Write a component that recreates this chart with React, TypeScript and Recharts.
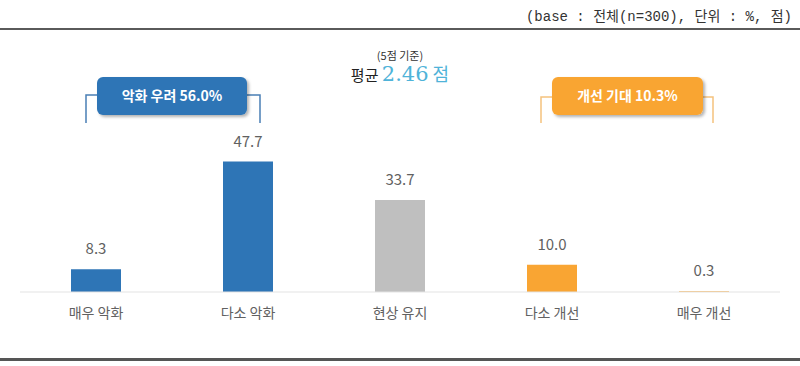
import { BarChart, Bar, XAxis, YAxis, Cell, LabelList } from "recharts";

const categories = ["매우 악화", "다소 악화", "현상 유지", "다소 개선", "매우 개선"];
const values = [8.3, 47.7, 33.7, 10.0, 0.3];
const barColors = ["#2e75b6", "#2e75b6", "#bfbfbf", "#f9a533", "#f9a533"];

const data = categories.map((name, i) => ({ name, value: values[i] }));

const KR = "'Noto Sans CJK KR', 'Noto Sans', sans-serif";

export default function App() {
  return (
    <div style={{ position: "absolute", left: 0, top: 0, width: 800, height: 366, background: "#fff", fontFamily: KR }}>
      {/* header note + frame lines */}
      <div style={{ position: "absolute", right: 8, top: 7, fontSize: 14, lineHeight: "20px", color: "#333", fontFamily: "'Liberation Mono', 'Noto Sans CJK KR', monospace", whiteSpace: "pre" }}>
        (base : 전체(n=300), 단위 : %, 점)
      </div>
      <div style={{ position: "absolute", left: 0, top: 28, width: 800, height: 2, background: "#5a5a5a" }} />
      <div style={{ position: "absolute", left: 0, top: 358, width: 800, height: 3, background: "#555" }} />

      {/* average */}
      <div style={{ position: "absolute", left: 0, width: 800, top: 47, textAlign: "center", fontSize: 11, color: "#333" }}>(5점 기준)</div>
      <div style={{ position: "absolute", left: 0, width: 800, top: 60, textAlign: "center", color: "#222", fontSize: 15 }}>
        평균 <span style={{ color: "#4fb3d9", fontSize: 21, fontFamily: "'DejaVu Serif', serif" }}>2.46</span>
        <span style={{ color: "#4fb3d9", fontSize: 18 }}> 점</span>
      </div>

      <BarChart width={800} height={366} data={data} margin={{ top: 128, right: 20, bottom: 44, left: 20 }} style={{ position: "absolute", left: 0, top: 0 }}>
        <YAxis hide domain={[0, 60]} />
        <XAxis
          dataKey="name"
          axisLine={{ stroke: "#e3e3e3" }}
          tickLine={false}
          tickMargin={10}
          tick={{ fill: "#616161", fontSize: 14, fontFamily: KR }}
        />
        <Bar dataKey="value" barSize={50} isAnimationActive={false}>
          {data.map((d, i) => (
            <Cell key={d.name} fill={barColors[i]} />
          ))}
          <LabelList dataKey="value" position="top" offset={15} fill="#616161" fontSize={15} fontFamily={KR} formatter={(v: any) => Number(v).toFixed(1)} />
        </Bar>
      </BarChart>

      {/* group brackets */}
      <svg width={800} height={366} style={{ position: "absolute", left: 0, top: 0, pointerEvents: "none" }}>
        <defs>
          <filter id="sh" x="-10%" y="-20%" width="130%" height="160%">
            <feDropShadow dx="2" dy="2" stdDeviation="1.5" floodColor="#000" floodOpacity="0.3" />
          </filter>
        </defs>
        <polyline points="86,123 86,95 260,95 260,123" fill="none" stroke="#4a7fb5" strokeWidth={1.5} />
        <rect x={97} y={77} width={150} height={38} rx={6} fill="#2e75b6" filter="url(#sh)" />
        <text x={172} y={101} textAnchor="middle" fill="#fff" fontSize={14} fontWeight={700} fontFamily={KR}>악화 우려 56.0%</text>

        <polyline points="541,123 541,97 713,97 713,123" fill="none" stroke="#f5c27e" strokeWidth={1.5} />
        <rect x={552} y={77} width={151} height={38} rx={6} fill="#f9a533" filter="url(#sh)" />
        <text x={627.5} y={101} textAnchor="middle" fill="#fff" fontSize={14} fontWeight={700} fontFamily={KR}>개선 기대 10.3%</text>
      </svg>
    </div>
  );
}
